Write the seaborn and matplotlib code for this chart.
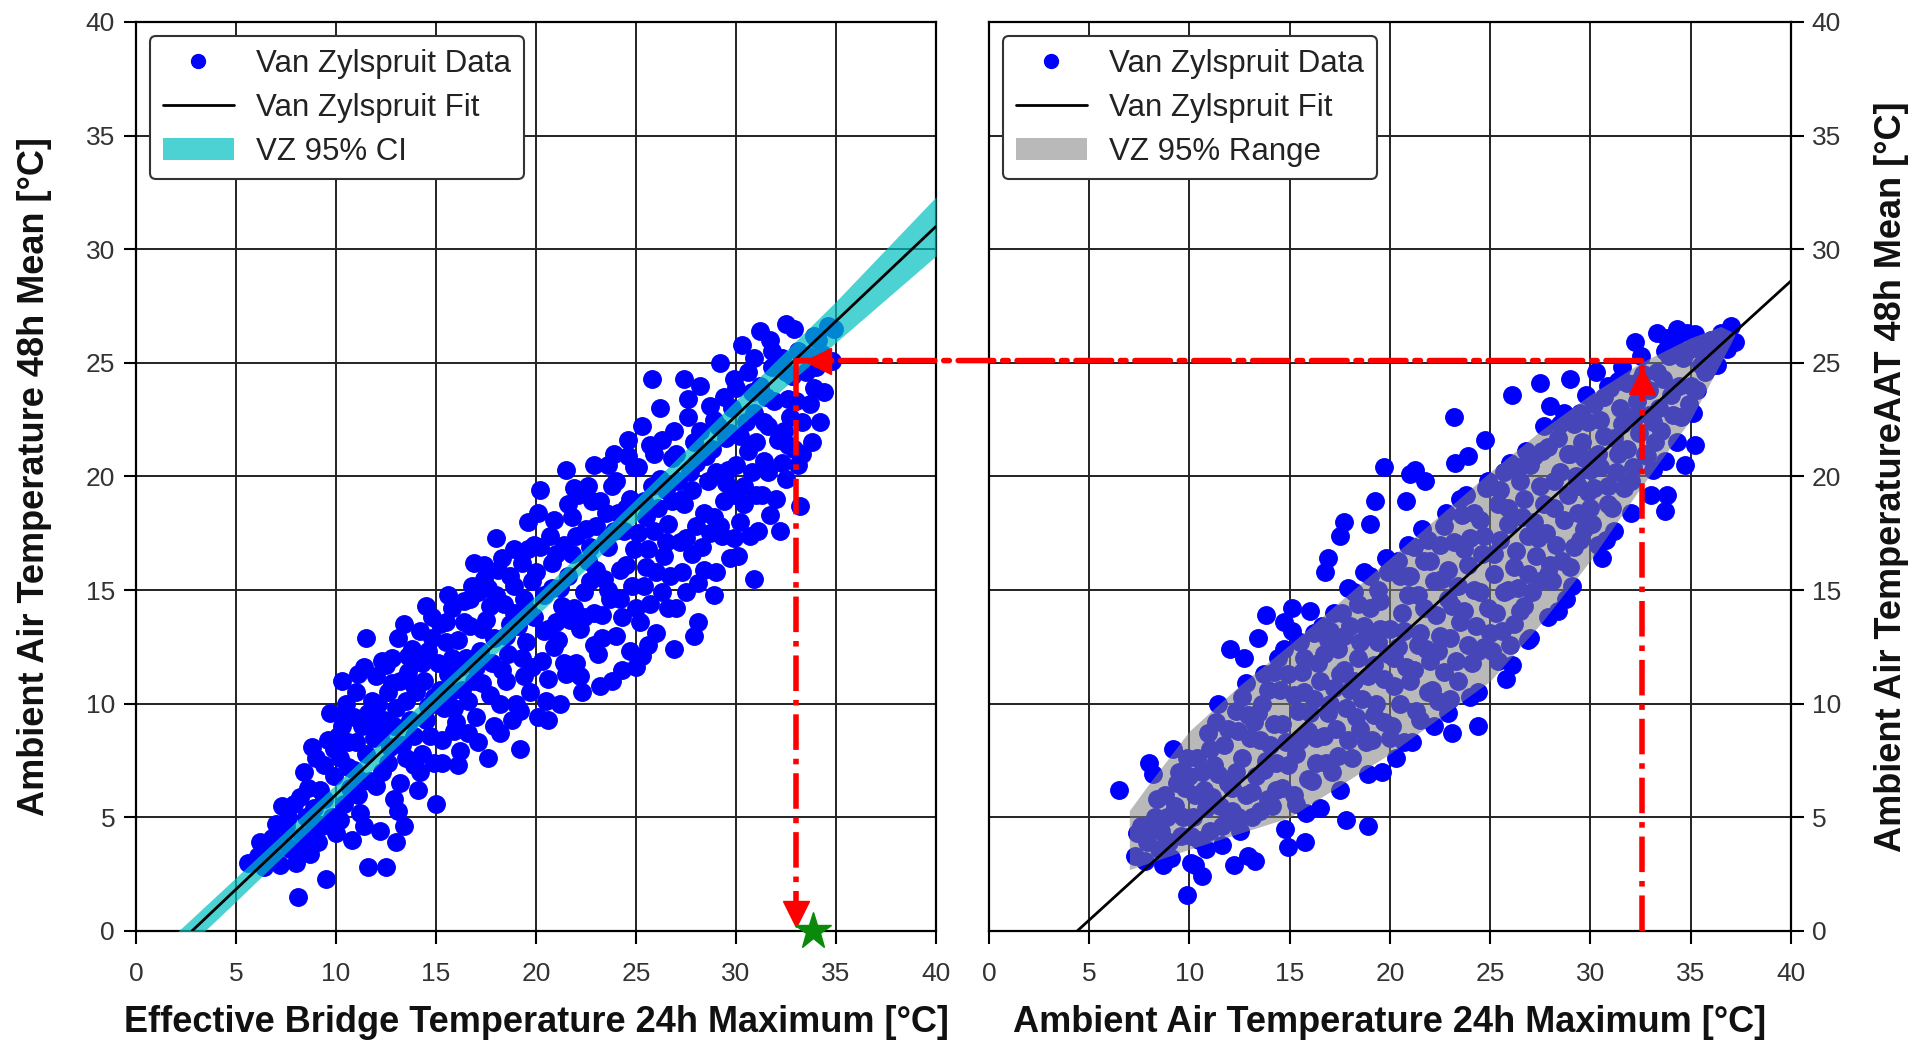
import matplotlib
matplotlib.use("Agg")
import numpy as np
import pandas as pd
import matplotlib.pyplot as plt
import seaborn as sns
from matplotlib.patches import ConnectionPatch, Patch
from matplotlib.lines import Line2D

# ---------------- data ----------------
# Left panel: Effective Bridge Temperature 24h max (x) vs AAT 48h mean (y)
left_pts_a = [
    (5.6, 3.0), (6.1, 3.3), (6.4, 2.8), (6.8, 4.1), (6.6, 3.6), (6.2, 3.9), (6.9, 3.2),
    (7.2, 2.9), (7.5, 4.6), (7.3, 5.5), (7.7, 3.6), (7.9, 5.6), (7.0, 4.7), (7.6, 5.0), (7.4, 3.9),
    (8.0, 3.0), (8.1, 1.5), (8.3, 4.2), (8.5, 5.0), (8.6, 6.3), (8.9, 5.4), (8.7, 3.4), (8.4, 7.0), (8.8, 8.1),
    (8.4, 3.7), (8.2, 5.9), (8.9, 4.6),
    (9.1, 3.9), (9.5, 2.3), (9.2, 6.2), (9.4, 7.3), (9.6, 8.4), (9.8, 5.0), (9.7, 9.6), (9.3, 4.6), (9.9, 6.8),
    (9.0, 7.6), (9.4, 5.8), (9.9, 8.0),
    (10.0, 4.3), (10.2, 7.6), (10.3, 9.0), (10.5, 10.0), (10.4, 5.6), (10.7, 6.3), (10.6, 8.3), (10.9, 9.4),
    (10.8, 4.0), (10.3, 11.0), (10.9, 7.1), (10.1, 8.6), (10.2, 4.9), (10.6, 7.2), (10.4, 9.6),
    (11.0, 10.5), (11.2, 5.2), (11.4, 11.6), (11.6, 2.8), (11.5, 7.8), (11.3, 9.0), (11.7, 6.6), (11.8, 10.1),
    (11.5, 12.9), (11.9, 8.5), (11.1, 6.0), (11.6, 9.6), (11.0, 8.3), (11.3, 6.6), (11.1, 11.3), (11.9, 9.2),
    (11.4, 4.6),
    (12.0, 11.2), (12.2, 4.4), (12.5, 2.8), (12.3, 7.0), (12.4, 9.3), (12.6, 10.5), (12.8, 12.0), (12.7, 8.1),
    (12.9, 5.8), (12.1, 10.0), (12.5, 11.7), (12.9, 9.0), (12.0, 6.4), (12.2, 8.6), (12.6, 7.4), (12.3, 11.9),
    (12.8, 10.9),
    (13.0, 3.9), (13.4, 4.6), (13.2, 6.5), (13.3, 8.2), (13.5, 10.1), (13.6, 11.4), (13.8, 12.4), (13.1, 12.9),
    (13.7, 9.3), (13.9, 7.3), (13.4, 13.5), (13.2, 11.0), (13.0, 9.8), (13.1, 5.3), (13.5, 7.6), (13.6, 12.1),
    (13.9, 10.8), (13.9, 8.6),
]
left_pts_b = [
    (14.1, 6.2), (14.3, 7.8), (14.5, 9.3), (14.4, 11.0), (14.6, 12.3), (14.8, 13.8), (14.2, 13.2), (14.9, 10.3),
    (14.7, 8.6), (14.0, 10.5), (14.5, 14.3), (14.2, 7.0), (14.3, 11.8), (14.6, 9.9), (14.8, 12.9), (14.9, 7.4),
    (15.0, 5.6), (15.3, 7.4), (15.4, 9.8), (15.6, 11.3), (15.5, 12.7), (15.8, 14.2), (15.2, 13.5), (15.9, 8.8),
    (15.7, 10.5), (15.1, 11.8), (15.6, 14.8), (15.2, 10.6), (15.3, 8.4), (15.5, 13.6), (15.8, 12.0), (15.9, 9.8),
    (16.2, 7.9), (16.0, 9.2), (16.3, 10.6), (16.5, 12.0), (16.7, 13.4), (16.8, 15.2), (16.4, 14.5), (16.9, 11.0),
    (16.6, 8.7), (16.1, 12.8), (16.9, 16.2), (16.1, 7.3), (16.2, 11.6), (16.4, 13.6), (16.6, 10.1), (16.7, 14.6),
    (17.0, 9.4), (17.3, 10.9), (17.2, 12.3), (17.5, 13.7), (17.6, 15.1), (17.4, 16.1), (17.8, 11.8), (17.9, 9.0),
    (17.7, 14.3), (17.1, 14.9), (17.6, 7.6), (17.0, 11.6), (17.1, 8.3), (17.3, 13.3), (17.4, 15.5), (17.7, 10.4),
    (17.9, 12.9),
    (18.0, 17.3), (18.2, 10.0), (18.3, 11.5), (18.5, 13.0), (18.4, 14.4), (18.7, 15.6), (18.9, 16.8), (18.6, 12.2),
    (18.8, 9.3), (18.1, 15.9), (18.9, 14.0), (18.0, 14.8), (18.2, 8.7), (18.3, 16.4), (18.5, 11.0), (18.7, 13.5),
    (18.9, 15.2),
    (19.2, 8.0), (19.2, 9.7), (19.4, 11.2), (19.5, 12.7), (19.6, 14.1), (19.8, 15.4), (19.9, 17.0), (19.3, 16.2),
    (19.7, 10.5), (19.1, 13.4), (19.6, 18.0), (19.0, 10.0), (19.3, 12.0), (19.4, 14.6), (19.6, 16.8), (19.8, 11.6),
    (19.9, 13.8),
]
left_pts_c = [
    (20.1, 18.4), (20.2, 19.4), (20.5, 10.1), (20.3, 11.9), (20.6, 13.3), (20.4, 14.8), (20.8, 16.2), (20.7, 17.4),
    (20.9, 12.5), (20.0, 15.8), (20.6, 9.3), (20.1, 9.4), (20.2, 16.9), (20.4, 13.2), (20.6, 11.1), (20.8, 15.1),
    (20.9, 18.1),
    (21.5, 11.3), (21.1, 12.8), (21.3, 14.3), (21.6, 15.6), (21.4, 17.0), (21.8, 18.2), (21.9, 19.5), (21.2, 10.0),
    (21.7, 13.7), (21.0, 16.6), (21.5, 20.3), (21.0, 13.6), (21.2, 15.1), (21.4, 11.8), (21.6, 18.8), (21.8, 16.6),
    (21.9, 14.2),
    (22.0, 11.8), (22.2, 13.3), (22.4, 14.9), (22.6, 16.3), (22.5, 17.7), (22.8, 18.9), (22.9, 20.5), (22.3, 10.5),
    (22.7, 15.4), (22.1, 19.2), (22.9, 12.6), (22.0, 17.4), (22.2, 11.2), (22.4, 13.8), (22.6, 19.6), (22.7, 16.9),
    (22.9, 14.0),
    (23.1, 12.2), (23.3, 13.9), (23.4, 15.5), (23.6, 16.9), (23.5, 18.4), (23.8, 19.6), (23.9, 21.0), (23.2, 10.8),
    (23.7, 14.6), (23.0, 17.8), (23.6, 20.5), (23.8, 11.0), (23.0, 15.9), (23.2, 18.9), (23.3, 12.9), (23.5, 17.2),
    (23.6, 15.0), (23.9, 17.6),
    (24.0, 13.0), (24.2, 14.6), (24.5, 16.1), (24.4, 17.6), (24.7, 19.0), (24.9, 20.4), (24.6, 21.6), (24.3, 11.5),
    (24.8, 15.2), (24.1, 18.4), (24.7, 12.3), (24.0, 19.8), (24.2, 15.9), (24.3, 13.8), (24.5, 18.6), (24.6, 20.9),
    (24.9, 16.8),
    (25.0, 11.6), (25.3, 12.1), (25.2, 13.6), (25.4, 15.2), (25.6, 16.8), (25.5, 18.2), (25.8, 19.6), (25.9, 21.0),
    (25.8, 24.3), (25.3, 22.2), (25.7, 14.4), (25.1, 17.5), (25.6, 12.6), (25.0, 14.2), (25.1, 20.4), (25.4, 18.9),
    (25.5, 16.0), (25.7, 21.4), (25.9, 17.6),
    (26.0, 13.1), (26.3, 14.9), (26.4, 16.5), (26.6, 17.9), (26.5, 19.4), (26.8, 20.8), (26.9, 22.0), (26.2, 23.0),
    (26.7, 15.6), (26.1, 18.6), (26.9, 12.4), (26.0, 15.8), (26.2, 19.9), (26.3, 21.6), (26.5, 17.1), (26.6, 14.2),
    (26.8, 18.9),
]
left_pts_d = [
    (27.0, 14.2), (27.3, 15.8), (27.5, 17.3), (27.4, 18.8), (27.7, 20.2), (27.9, 21.5), (27.6, 22.6), (27.4, 24.3),
    (27.8, 16.6), (27.1, 19.8), (27.9, 13.0), (27.0, 21.0), (27.2, 17.1), (27.3, 19.0), (27.5, 14.9), (27.6, 23.4),
    (27.8, 19.4),
    (28.1, 13.6), (28.1, 15.3), (28.3, 16.9), (28.4, 18.4), (28.6, 19.8), (28.8, 21.2), (28.9, 22.5), (28.2, 24.0),
    (28.7, 17.5), (28.0, 20.6), (28.9, 14.8), (28.0, 17.8), (28.2, 22.0), (28.4, 15.9), (28.5, 20.9), (28.7, 23.1),
    (28.9, 18.2),
    (29.0, 15.8), (29.3, 17.4), (29.4, 18.9), (29.6, 20.3), (29.5, 21.7), (29.8, 23.0), (29.9, 24.3), (29.2, 25.0),
    (29.7, 16.4), (29.1, 22.2), (29.9, 19.2), (29.0, 20.2), (29.2, 17.8), (29.4, 23.5), (29.5, 19.7), (29.7, 21.9),
    (29.9, 17.3),
    (30.1, 16.5), (30.2, 18.0), (30.4, 19.6), (30.6, 21.1), (30.5, 22.4), (30.8, 23.7), (30.9, 25.2), (30.3, 25.8),
    (30.7, 17.4), (30.0, 20.5), (30.9, 15.5), (30.0, 23.9), (30.2, 21.8), (30.4, 18.8), (30.6, 24.6), (30.8, 20.2),
    (30.9, 22.8),
    (31.1, 17.6), (31.3, 19.2), (31.4, 20.7), (31.6, 22.2), (31.5, 23.5), (31.8, 24.8), (31.2, 26.4), (31.7, 26.0),
    (31.7, 18.3), (31.0, 21.5), (31.0, 19.2), (31.2, 24.0), (31.4, 22.4), (31.6, 20.2), (31.8, 25.5), (31.9, 23.3),
    (32.0, 19.0), (32.3, 20.6), (32.4, 22.0), (32.6, 23.4), (32.5, 24.6), (32.5, 26.7), (32.9, 26.5), (32.2, 17.6),
    (32.9, 21.2), (32.6, 21.4), (32.1, 21.6), (32.3, 25.2), (32.5, 19.9), (32.7, 22.6), (32.8, 24.4),
    (33.1, 20.5), (33.3, 22.4), (33.0, 23.3), (33.7, 23.2), (33.6, 25.3), (33.9, 26.2), (33.2, 18.7), (33.8, 21.5),
    (33.1, 25.5), (33.3, 21.0), (33.5, 24.6), (33.9, 23.9),
    (34.0, 24.8), (34.3, 25.4), (34.6, 26.6), (34.2, 22.4), (34.8, 25.1), (34.1, 26.0), (34.4, 23.7), (34.9, 26.5),
]

# Right panel: AAT 24h max (x) vs AAT 48h mean (y)
right_pts_a = [
    (6.5, 6.2),
    (7.3, 3.3), (7.6, 4.6), (7.9, 3.9), (7.4, 4.3), (7.8, 3.1),
    (8.0, 7.4), (8.2, 6.9), (8.3, 5.0), (8.5, 3.6), (8.7, 2.9), (8.8, 6.0), (8.6, 4.4), (8.1, 4.4), (8.4, 5.8),
    (8.9, 5.0),
    (9.1, 3.2), (9.3, 5.5), (9.5, 7.0), (9.6, 4.2), (9.8, 6.3), (9.9, 1.6), (9.2, 8.0), (9.0, 3.9), (9.4, 6.5),
    (9.7, 5.0), (9.9, 7.6),
    (10.1, 3.0), (10.3, 2.9), (10.6, 2.4), (10.2, 5.0), (10.4, 7.6), (10.5, 4.0), (10.7, 6.2), (10.9, 8.7),
    (10.8, 5.4), (10.0, 6.8), (10.1, 4.2), (10.3, 6.0), (10.6, 7.0), (10.8, 3.6),
    (11.0, 4.4), (11.2, 7.3), (11.3, 9.2), (11.5, 5.5), (11.6, 3.8), (11.7, 8.2), (11.9, 6.5), (11.4, 10.0),
    (11.8, 4.8), (11.0, 8.0), (11.1, 5.9), (11.4, 6.9), (11.6, 4.6), (11.9, 8.9),
    (12.0, 12.4), (12.2, 2.9), (12.7, 12.0), (12.9, 3.3), (12.1, 5.3), (12.3, 7.0), (12.4, 8.8), (12.6, 10.3),
    (12.8, 6.0), (12.5, 4.4), (12.9, 9.5), (12.1, 6.3), (12.3, 9.7), (12.4, 5.0), (12.6, 7.6), (12.8, 10.9),
    (13.25, 3.1), (13.4, 12.9), (13.8, 13.9), (13.1, 5.0), (13.3, 6.8), (13.5, 8.4), (13.6, 10.0), (13.7, 11.3),
    (13.9, 5.8), (13.2, 9.2), (13.8, 7.5), (13.0, 8.5), (13.1, 6.1), (13.4, 9.6), (13.5, 5.3), (13.7, 7.1),
    (13.9, 10.6),
    (14.7, 13.6), (14.75, 4.5), (14.9, 3.7), (14.1, 5.5), (14.3, 7.4), (14.2, 9.1), (14.5, 10.6), (14.4, 12.0),
    (14.6, 6.3), (14.8, 8.3), (14.9, 11.3), (14.0, 8.2), (14.2, 11.4), (14.3, 6.2), (14.6, 9.1), (14.7, 12.4),
    (14.9, 7.3),
]
right_pts_b = [
    (15.1, 14.2), (15.75, 3.9), (15.2, 6.0), (15.3, 7.8), (15.4, 9.7), (15.6, 11.4), (15.5, 12.7), (15.8, 5.2),
    (15.9, 8.8), (15.7, 10.5), (15.1, 13.2), (15.2, 10.4), (15.3, 5.6), (15.5, 8.4), (15.7, 12.0), (15.9, 6.7),
    (16.9, 16.4), (16.75, 15.8), (16.5, 5.4), (16.1, 6.6), (16.3, 8.5), (16.2, 10.2), (16.4, 11.8), (16.6, 13.4),
    (16.8, 7.4), (16.9, 9.6), (16.7, 12.2), (16.0, 14.1), (16.0, 9.6), (16.2, 13.1), (16.3, 7.4), (16.5, 11.0),
    (16.7, 8.6), (16.9, 12.8),
    (17.5, 17.4), (17.7, 18.0), (17.8, 4.9), (17.5, 6.2), (17.1, 7.0), (17.3, 8.9), (17.2, 10.7), (17.4, 12.4),
    (17.6, 14.0), (17.9, 15.1), (17.8, 9.8), (17.0, 13.2), (17.7, 11.5), (17.0, 10.0), (17.2, 14.0), (17.4, 7.7),
    (17.5, 11.3), (17.7, 13.0), (17.9, 8.4),
    (18.9, 4.6), (18.9, 6.9), (18.1, 7.6), (18.3, 9.4), (18.2, 11.0), (18.5, 12.7), (18.4, 14.4), (18.7, 15.8),
    (18.6, 10.2), (18.8, 8.3), (18.0, 13.4), (18.9, 13.0), (18.0, 10.6), (18.2, 14.9), (18.4, 12.0), (18.5, 8.9),
    (18.7, 13.4), (18.9, 11.2),
    (19.0, 17.9), (19.25, 18.9), (19.7, 20.4), (19.6, 7.0), (19.1, 8.4), (19.3, 10.0), (19.2, 11.7), (19.5, 13.3),
    (19.4, 15.0), (19.8, 16.4), (19.7, 9.2), (19.9, 12.2), (19.0, 14.2), (19.0, 15.6), (19.2, 9.5), (19.4, 12.7),
    (19.5, 14.5), (19.7, 11.1), (19.9, 15.8),
    (20.3, 7.6), (20.8, 18.9), (20.1, 9.0), (20.2, 10.8), (20.4, 12.5), (20.6, 14.0), (20.5, 15.6), (20.9, 17.0),
    (20.7, 8.3), (20.8, 11.6), (20.0, 13.3), (20.9, 14.8), (20.0, 8.5), (20.2, 12.0), (20.4, 16.3), (20.5, 10.0),
    (20.7, 13.2), (20.9, 15.6),
    (21.1, 8.3), (21.25, 20.3), (21.75, 19.8), (21.0, 20.1), (21.3, 9.7), (21.2, 11.5), (21.5, 13.1), (21.4, 14.8),
    (21.7, 16.3), (21.6, 17.7), (21.9, 10.5), (21.8, 12.4), (21.0, 15.6), (21.0, 11.0), (21.2, 16.9), (21.4, 12.6),
    (21.5, 9.3), (21.7, 14.2), (21.9, 17.2),
]
right_pts_c = [
    (22.2, 9.0), (22.1, 10.6), (22.4, 12.3), (22.3, 13.9), (22.6, 15.5), (22.5, 17.0), (22.8, 18.4), (22.7, 11.4),
    (22.9, 14.6), (22.0, 16.3), (22.9, 9.6), (22.0, 11.9), (22.2, 15.4), (22.4, 10.1), (22.5, 13.0), (22.7, 17.8),
    (22.9, 15.9),
    (23.1, 8.7), (23.2, 22.6), (23.25, 20.6), (23.9, 20.9), (23.0, 10.2), (23.3, 11.9), (23.5, 13.6), (23.4, 15.2),
    (23.7, 16.8), (23.6, 18.3), (23.8, 19.2), (23.9, 12.6), (23.1, 14.3), (23.0, 12.9), (23.2, 17.1), (23.4, 11.0),
    (23.5, 19.0), (23.7, 14.1), (23.9, 16.1),
    (24.4, 9.0), (24.4, 10.5), (24.75, 21.6), (24.1, 11.8), (24.3, 13.4), (24.2, 15.0), (24.6, 16.6), (24.5, 18.1),
    (24.8, 19.5), (24.7, 12.5), (24.9, 14.2), (24.0, 17.3), (24.0, 10.3), (24.2, 18.4), (24.4, 12.3), (24.5, 14.9),
    (24.7, 17.4), (24.9, 19.8),
    (25.1, 12.3), (25.3, 14.0), (25.2, 15.7), (25.5, 17.2), (25.4, 18.8), (25.7, 20.2), (25.6, 13.2), (25.9, 15.0),
    (25.8, 11.1), (25.0, 19.6), (25.9, 17.9), (25.0, 13.1), (25.2, 16.6), (25.4, 11.9), (25.5, 19.4), (25.7, 14.9),
    (25.9, 18.6),
    (26.1, 11.7), (26.1, 23.6), (26.2, 13.5), (26.4, 15.1), (26.3, 16.7), (26.6, 18.2), (26.5, 19.8), (26.8, 21.1),
    (26.7, 14.3), (26.9, 17.4), (26.0, 20.6), (26.9, 12.8), (26.0, 12.6), (26.2, 16.0), (26.4, 20.4), (26.5, 14.1),
    (26.7, 19.0), (26.9, 15.7),
    (27.5, 24.1), (27.9, 13.8), (27.1, 14.9), (27.3, 16.5), (27.2, 18.0), (27.5, 19.6), (27.6, 21.1), (27.7, 22.2),
    (27.9, 15.7), (27.0, 20.5), (27.8, 17.5), (27.0, 12.9), (27.2, 20.9), (27.4, 17.3), (27.5, 15.4), (27.7, 18.8),
    (27.9, 21.3),
]
right_pts_d = [
    (28.1, 15.4), (28.3, 17.0), (28.2, 18.6), (28.5, 20.2), (28.4, 21.7), (28.7, 22.8), (28.6, 16.3), (28.9, 19.2),
    (28.0, 23.1), (28.8, 14.6), (28.0, 16.1), (28.2, 19.8), (28.4, 14.1), (28.5, 22.3), (28.7, 18.1), (28.9, 21.0),
    (29.0, 24.3), (29.1, 15.2), (29.2, 16.9), (29.4, 18.4), (29.3, 20.0), (29.6, 21.5), (29.5, 22.8), (29.8, 23.6),
    (29.7, 17.7), (29.9, 19.3), (29.0, 21.0), (29.0, 16.0), (29.2, 22.3), (29.4, 19.6), (29.5, 17.2), (29.7, 20.8),
    (29.9, 22.4),
    (30.3, 24.6), (30.8, 17.2), (30.6, 16.4), (30.1, 17.9), (30.2, 19.5), (30.4, 21.0), (30.5, 22.5), (30.7, 23.5),
    (30.9, 18.8), (30.0, 20.3), (30.9, 24.0), (30.0, 18.6), (30.2, 23.2), (30.4, 17.0), (30.5, 20.4), (30.7, 21.8),
    (30.9, 19.6),
    (31.1, 18.6), (31.3, 20.2), (31.2, 21.7), (31.5, 23.0), (31.4, 24.2), (31.7, 19.5), (31.8, 21.2), (31.9, 22.6),
    (31.6, 24.8), (31.0, 23.9), (31.2, 17.6), (31.4, 21.0), (31.6, 22.3), (31.8, 24.1),
    (32.0, 18.4), (32.2, 25.9), (32.1, 20.4), (32.4, 21.9), (32.3, 23.3), (32.6, 24.5), (32.8, 20.9), (32.9, 22.7),
    (32.5, 25.3), (32.0, 19.8), (32.2, 22.6), (32.4, 24.2), (32.7, 21.0), (32.9, 23.8),
    (33.0, 19.2), (33.3, 26.3), (33.7, 20.7), (33.8, 19.2), (33.7, 18.5), (33.8, 26.1), (33.2, 21.5), (33.4, 23.0),
    (33.6, 24.3), (33.9, 25.3), (33.1, 22.4), (33.1, 20.3), (33.3, 24.6), (33.5, 22.0), (33.7, 25.5),
    (34.3, 26.5), (34.8, 26.3), (34.3, 21.5), (34.7, 20.5), (34.1, 22.7), (34.4, 24.0), (34.6, 25.2), (34.9, 23.2),
    (34.2, 25.8), (34.0, 23.6), (34.5, 22.6), (34.8, 25.5),
    (35.2, 26.25), (35.2, 21.4), (35.3, 23.8), (35.5, 24.9), (35.7, 25.8), (35.9, 24.8), (35.1, 22.8), (35.0, 24.0),
    (35.4, 25.6), (35.7, 24.6),
    (36.2, 25.5), (36.5, 26.3), (36.8, 25.6), (37.0, 26.6), (37.2, 25.9), (36.0, 26.0), (36.3, 24.9), (36.6, 25.8),
]

# Fit lines
left_fit_x = [2.8, 40.0]
left_fit_y = [0.0, 31.0]
right_fit_x = [4.4, 40.0]
right_fit_y = [0.0, 28.6]

# 95% CI of the left fit
ci_x = [2.0, 5.0, 10.0, 15.0, 20.0, 25.0, 30.0, 35.0, 40.0]
ci_lo = [-1.2, 1.3, 5.55, 9.75, 13.85, 18.0, 22.05, 25.9, 29.7]
ci_hi = [-0.1, 2.35, 6.45, 10.65, 14.75, 19.0, 23.35, 27.7, 32.3]

# 95% range band of the right panel
rng_x = [7.0, 8.0, 10.0, 12.5, 15.0, 17.5, 20.0, 22.5, 25.0, 27.5, 30.0, 32.5, 35.0, 36.5, 37.2]
rng_lo = [2.7, 3.0, 3.6, 4.3, 5.0, 6.4, 7.8, 9.4, 11.0, 13.5, 16.3, 19.5, 22.5, 25.0, 26.2]
rng_hi = [5.3, 6.5, 8.8, 10.8, 12.6, 14.5, 16.4, 18.3, 20.2, 22.0, 23.6, 25.0, 26.1, 26.6, 26.3]

# Look-up path (red arrows) and result star
lookup_ambient_max = 32.55
lookup_aat_mean = 25.1
lookup_bridge_max = 33.0
star_bridge = [33.85]
star_zero = [0.0]

ticks = [0, 5, 10, 15, 20, 25, 30, 35, 40]

# ---------------- styling ----------------
sns.set_theme(style="white")
plt.rcParams["font.family"] = ["Liberation Sans", "DejaVu Sans"]

BLUE = "#0000ff"
CI_COLOR = (0.0, 0.75, 0.75)
CI_ALPHA = 0.7
RNG_COLOR = (0.5, 0.5, 0.5)
RNG_ALPHA = 0.55

fig = plt.figure(figsize=(19.23, 10.45), dpi=100)
ax1 = fig.add_axes([0.0707, 0.1091, 0.4160, 0.8699])
ax2 = fig.add_axes([0.5143, 0.1091, 0.4170, 0.8699])

def to_df(*lists):
    pts = [p for lst in lists for p in lst]
    return pd.DataFrame(pts, columns=["x", "y"])

dfl = to_df(left_pts_a, left_pts_b, left_pts_c, left_pts_d)
dfr = to_df(right_pts_a, right_pts_b, right_pts_c, right_pts_d)

# Left panel
sns.scatterplot(data=dfl, x="x", y="y", ax=ax1, color=BLUE, s=185, linewidth=0, zorder=2, legend=False)
ax1.fill_between(ci_x, ci_lo, ci_hi, color=CI_COLOR, alpha=CI_ALPHA, linewidth=0, zorder=3)
sns.lineplot(x=left_fit_x, y=left_fit_y, ax=ax1, color="black", lw=2, zorder=4, legend=False)

# Right panel
sns.scatterplot(data=dfr, x="x", y="y", ax=ax2, color=BLUE, s=185, linewidth=0, zorder=2, legend=False)
ax2.fill_between(rng_x, rng_lo, rng_hi, color=RNG_COLOR, alpha=RNG_ALPHA, linewidth=0, zorder=3)
sns.lineplot(x=right_fit_x, y=right_fit_y, ax=ax2, color="black", lw=2, zorder=4, legend=False)

for ax in (ax1, ax2):
    ax.set_xlim(0, 40)
    ax.set_ylim(0, 40)
    ax.set_xticks(ticks)
    ax.set_yticks(ticks)
    ax.set_axisbelow(True)
    ax.grid(True, color="#222222", lw=1.4)
    for sp in ax.spines.values():
        sp.set_visible(True)
        sp.set_color("black")
        sp.set_linewidth(1.6)
    ax.tick_params(axis="both", direction="out", length=9, width=1.5, color="black",
                   labelsize=19, labelcolor="#333333", pad=6)
    ax.tick_params(axis="x", pad=13)
    ax.set_facecolor("white")

ax1.tick_params(bottom=True, left=True, right=False, top=False)
ax2.yaxis.tick_right()
ax2.yaxis.set_label_position("right")
ax2.tick_params(bottom=True, right=True, left=False, top=False)

lab = dict(fontsize=26, fontweight="bold", color="#111111")
ax1.set_xlabel("Effective Bridge Temperature 24h Maximum [°C]", labelpad=14, **lab)
ax1.set_ylabel("Ambient Air Temperature 48h Mean [°C]", labelpad=24, **lab)
ax2.set_xlabel("Ambient Air Temperature 24h Maximum [°C]", labelpad=14, **lab)
ax2.set_ylabel("Ambient Air TemperatureAAT 48h Mean [°C]", labelpad=24, **lab)

# Legends
def make_legend(ax, patch_color, patch_alpha, patch_label):
    handles = [
        Line2D([], [], marker="o", ls="none", color=BLUE, markersize=10),
        Line2D([], [], color="black", lw=2),
        Patch(facecolor=patch_color, alpha=patch_alpha, edgecolor="none"),
    ]
    labels = ["Van Zylspruit Data", "Van Zylspruit Fit", patch_label]
    leg = ax.legend(handles, labels, loc="upper left", fontsize=22.5, frameon=True, fancybox=True,
                    borderaxespad=0.45, handlelength=2.3, handletextpad=0.7, labelspacing=0.45,
                    borderpad=0.4, framealpha=1.0)
    leg.get_frame().set_edgecolor("#333333")
    leg.get_frame().set_linewidth(1.5)
    for t in leg.get_texts():
        t.set_color("#222222")
    leg.set_zorder(10)

make_legend(ax1, CI_COLOR, CI_ALPHA, "VZ 95% CI")
make_legend(ax2, RNG_COLOR, RNG_ALPHA, "VZ 95% Range")

# Red look-up path
red_kw = dict(color="red", lw=4, ls="-.", zorder=6)
ax2.plot([lookup_ambient_max, lookup_ambient_max], [0, lookup_aat_mean], clip_on=False, **red_kw)
con = ConnectionPatch(xyA=(lookup_ambient_max, lookup_aat_mean), coordsA=ax2.transData,
                      xyB=(lookup_bridge_max, lookup_aat_mean), coordsB=ax1.transData,
                      color="red", lw=4, ls="-.", zorder=6)
fig.add_artist(con)
ax1.plot([lookup_bridge_max, lookup_bridge_max], [lookup_aat_mean, 0.8], clip_on=False, **red_kw)
ax2.plot([lookup_ambient_max], [lookup_aat_mean - 0.9], marker="^", ms=19, color="red", zorder=7)
ax1.plot([lookup_bridge_max + 1.1], [lookup_aat_mean], marker="<", ms=19, color="red", zorder=7)
ax1.plot([lookup_bridge_max], [0.75], marker="v", ms=19, color="red", zorder=7, clip_on=False)
ax1.plot(star_bridge, star_zero, marker="*", ms=28, color="#0a8a0a", ls="none", zorder=8, clip_on=False)

fig.savefig("out.png", dpi=100, facecolor="white")
